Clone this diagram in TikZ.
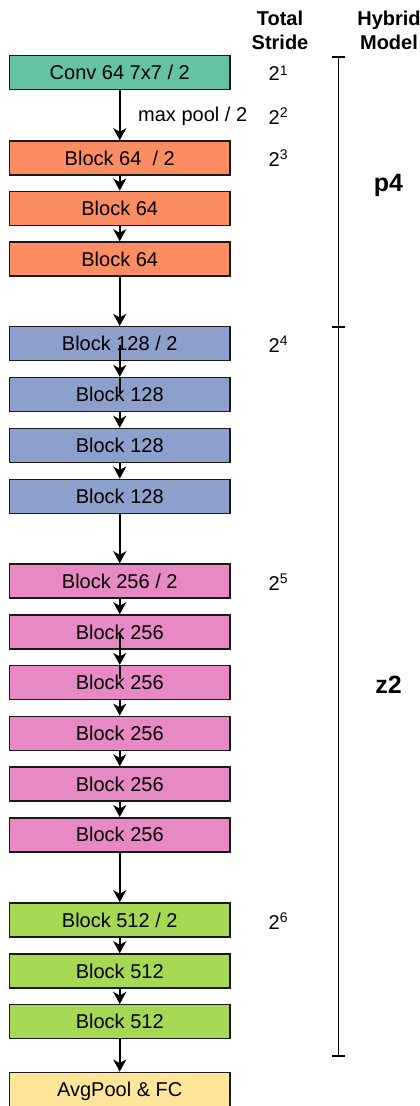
\documentclass[tikz,border=0pt]{standalone}
\usepackage{fontspec}
\setmainfont{Liberation Sans}
\usetikzlibrary{arrows.meta}

\definecolor{edge}{HTML}{1A1A1A}
\definecolor{convcol}{HTML}{66C2A5}
\definecolor{stageone}{HTML}{FC8D62}
\definecolor{stagetwo}{HTML}{8DA0CB}
\definecolor{stagethree}{HTML}{E78AC3}
\definecolor{stagefour}{HTML}{A6D854}
\definecolor{headcol}{HTML}{FFE599}

% power of two with a raised exponent
\newcommand\strideexp[2][7pt]{2\raisebox{#1}{\fontsize{14}{14}\selectfont #2}}

\tikzset{
  layer/.style={draw=edge, line width=1.5pt, minimum width=220.5pt,
    minimum height=34pt, inner sep=0pt, text height=14.3pt, text depth=0pt,
    font=\fontsize{20}{24}\selectfont, anchor=center},
  flow/.style={draw=black, line width=1.7pt,
    -{Stealth[length=12pt,width=13pt,inset=3.5pt]}},
  stem/.style={draw=black, line width=1.7pt},
  stride/.style={anchor=base west, inner sep=0pt, font=\fontsize{20}{24}\selectfont},
  head/.style={anchor=base, inner sep=0pt, font=\fontsize{20}{24}\selectfont\bfseries},
  part/.style={anchor=base, inner sep=0pt, font=\fontsize{25}{29}\selectfont\bfseries},
  bracket/.style={draw=black, line width=1.7pt},
}

\begin{document}
\begin{tikzpicture}[x=1pt, y=-1pt]
\useasboundingbox (0,0) rectangle (420,1106);

% column headers
\node[head] (hts1) at (280,25) {Total};
\node[head] (hts2) at (280,49.5) {Stride};
\node[head] (hhm1) at (389,25) {Hybrid};
\node[head] (hhm2) at (389,49.5) {Model};

% network layers
\def\cx{119.75}
\node[layer, fill=convcol]    (conv)  at (\cx,72.5)  {Conv 64 7x7 / 2};
\node[layer, fill=stageone]   (b64a)  at (\cx,158)   {Block 64~~/ 2};
\node[layer, fill=stageone]   (b64b)  at (\cx,208.3) {Block 64};
\node[layer, fill=stageone]   (b64c)  at (\cx,259)   {Block 64};
\node[layer, fill=stagetwo]   (b128a) at (\cx,343.7) {Block 128 / 2};
\node[layer, fill=stagetwo]   (b128b) at (\cx,394.7) {Block 128};
\node[layer, fill=stagetwo]   (b128c) at (\cx,445.5) {Block 128};
\node[layer, fill=stagetwo]   (b128d) at (\cx,496.3) {Block 128};
\node[layer, fill=stagethree] (b256a) at (\cx,581)   {Block 256 / 2};
\node[layer, fill=stagethree] (b256b) at (\cx,632)   {Block 256};
\node[layer, fill=stagethree] (b256c) at (\cx,682.7) {Block 256};
\node[layer, fill=stagethree] (b256d) at (\cx,733.4) {Block 256};
\node[layer, fill=stagethree] (b256e) at (\cx,784.1) {Block 256};
\node[layer, fill=stagethree] (b256f) at (\cx,834.8) {Block 256};
\node[layer, fill=stagefour]  (b512a) at (\cx,920)   {Block 512 / 2};
\node[layer, fill=stagefour]  (b512b) at (\cx,971)   {Block 512};
\node[layer, fill=stagefour]  (b512c) at (\cx,1021.7){Block 512};
\node[layer, fill=headcol]    (head)  at (\cx,1089.3){AvgPool \& FC};

% connections
\draw[flow] (conv) -- (b64a);
\draw[flow] (b64a) -- (b64b);
\draw[flow] (b64b) -- (b64c);
\draw[flow] (b64c) -- (b128a);
\draw[flow] ([yshift=-1pt]b128a.center) -- (b128b.north);
\draw[stem] (b128b.north) -- ([yshift=2pt]b128b.center);
\draw[flow] (b128b) -- (b128c);
\draw[flow] (b128c) -- (b128d);
\draw[flow] (b128d) -- (b256a);
\draw[flow] (b256a) -- (b256b);
\draw[flow] ([yshift=-1pt]b256b.center) -- (b256c.north);
\draw[stem] (b256c.north) -- ([yshift=4pt]b256c.center);
\draw[flow] (b256c) -- (b256d);
\draw[flow] (b256d) -- (b256e);
\draw[flow] (b256e) -- (b256f);
\draw[flow] (b256f) -- (b512a);
\draw[flow] (b512a) -- (b512b);
\draw[flow] (b512b) -- (b512c);
\draw[flow] (b512c) -- (head);

\node[stride] (mp) at (138,121) {max pool / 2};

% total stride
\node[stride] (s1) at (268.5,80)    {\strideexp[4.5pt]{1}};
\node[stride] (s2) at (268.5,124)   {\strideexp{2}};
\node[stride] (s3) at (268.5,166.5) {\strideexp{3}};
\node[stride] (s4) at (268.5,352.5) {\strideexp{4}};
\node[stride] (s5) at (268.5,590)   {\strideexp{5}};
\node[stride] (s6) at (268.5,929.5) {\strideexp{6}};

% hybrid model split
\coordinate (brtop) at (338.5,56.7);
\coordinate (brmid) at (338.5,326.7);
\coordinate (brbot) at (338.5,1055.7);
\draw[bracket] (brtop) -- (brbot);
\draw[bracket] ([xshift=-6.5pt]brtop) -- ([xshift=6.5pt]brtop);
\draw[bracket] ([xshift=-6.5pt]brmid) -- ([xshift=6.5pt]brmid);
\draw[bracket] ([xshift=-6.5pt]brbot) -- ([xshift=6.5pt]brbot);

\node[part] (p4) at (388.5,191) {p4};
\node[part] (z2) at (388.5,693) {z2};
\end{tikzpicture}
\end{document}
